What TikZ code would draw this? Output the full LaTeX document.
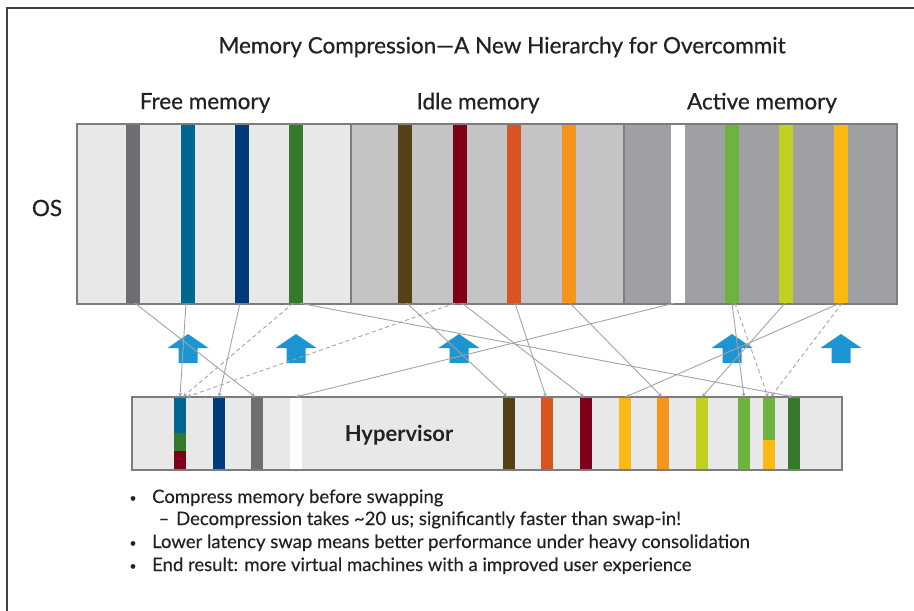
\documentclass[tikz,border=0pt]{standalone}
\usepackage{fontspec}
\setmainfont{Lato}
\newfontfamily\medfont{Lato}[FakeBold=0.6]
\newfontfamily\bodyfont{Lato}[FakeBold=0.3]
\usetikzlibrary{arrows.meta}
\definecolor{freebg}{HTML}{E8E8E8}
\definecolor{idlebg}{HTML}{C4C4C6}
\definecolor{activebg}{HTML}{A09FA4}
\definecolor{cgray}{HTML}{6D6E71}
\definecolor{cblue}{HTML}{006890}
\definecolor{cnavy}{HTML}{003B7B}
\definecolor{cgreen}{HTML}{35792B}
\definecolor{cbrown}{HTML}{544118}
\definecolor{cmaroon}{HTML}{800018}
\definecolor{cored}{HTML}{D9541E}
\definecolor{corange}{HTML}{F7941D}
\definecolor{clgreen}{HTML}{6DB33F}
\definecolor{cygreen}{HTML}{C2D021}
\definecolor{cgold}{HTML}{FDB813}
\definecolor{abl}{HTML}{1E95D3}
\definecolor{lgray}{HTML}{A3A3A3}
\definecolor{bgray}{HTML}{7D7D7F}
\definecolor{txt}{HTML}{222222}
\begin{document}
\begin{tikzpicture}[x=1pt,y=-1pt,
  osstripe/.style={rectangle,inner sep=0pt,minimum width=14pt,minimum height=178pt},
  hvstripe/.style={rectangle,inner sep=0pt,minimum width=12pt,minimum height=73pt},
  conn/.style={draw=lgray,line width=0.9pt,-{Stealth[length=4pt,width=4pt]}},
  dconn/.style={conn,dash pattern=on 4pt off 3pt},
  boxline/.style={draw=bgray,line width=2pt},
  hdr/.style={font=\medfont\fontsize{22.5}{26}\selectfont,text=txt},
  bul/.style={font=\bodyfont\fontsize{18.5}{22}\selectfont,text=txt,anchor=base west,inner sep=0pt},
  dot/.style={font=\bodyfont\fontsize{12}{14}\selectfont,text=txt,anchor=base,inner sep=0pt},
  uparr/.pic={\fill[abl] (-9.5,0) -- (-9.5,-15) -- (-20.5,-15) -- (0,-29) -- (20.5,-15) -- (9.5,-15) -- (9.5,0) -- cycle;}
]
\useasboundingbox (0,0) rectangle (914,611);
% frame
\draw[draw=black!75,line width=1.5pt] (7,611) -- (7,8) -- (914,8);
% title & headers
\node[hdr] (title) at (502,47) {Memory Compression—A New Hierarchy for Overcommit};
\node[hdr] (hfree) at (205,103) {Free memory};
\node[hdr] (hidle) at (478,103) {Idle memory};
\node[hdr] (hact) at (762,103) {Active memory};
\node[hdr] (os) at (47,208) {OS};
% OS sections
\fill[freebg] (77,124) rectangle (351,304);
\fill[idlebg] (351,124) rectangle (624,304);
\fill[activebg] (624,124) rectangle (897,304);
\node[osstripe,fill=cgray] (o1) at (133,214) {};
\node[osstripe,fill=cblue] (o2) at (188,214) {};
\node[osstripe,fill=cnavy] (o3) at (242,214) {};
\node[osstripe,fill=cgreen] (o4) at (296,214) {};
\node[osstripe,fill=cbrown] (o5) at (405,214) {};
\node[osstripe,fill=cmaroon] (o6) at (460,214) {};
\node[osstripe,fill=cored] (o7) at (514,214) {};
\node[osstripe,fill=corange] (o8) at (569,214) {};
\node[osstripe,fill=white] (o9) at (678,214) {};
\node[osstripe,fill=clgreen] (o10) at (732,214) {};
\node[osstripe,fill=cygreen] (o11) at (786,214) {};
\node[osstripe,fill=cgold] (o12) at (841,214) {};
\draw[boxline] (77,124) rectangle (897,304);
\draw[boxline] (351,124) -- (351,304);
\draw[boxline] (624,124) -- (624,304);
% Hypervisor
\fill[freebg] (132,397) rectangle (842,470);
\node[hvstripe] (hm) at (180,433.5) {};
\fill[cblue] (hm.north west) rectangle ([yshift=-36]hm.north east);
\fill[cgreen] ([yshift=-36]hm.north west) rectangle ([yshift=-54]hm.north east);
\fill[cmaroon] ([yshift=-54]hm.north west) rectangle (hm.south east);
\node[hvstripe,fill=cnavy] (h2) at (219,433.5) {};
\node[hvstripe,fill=cgray] (h3) at (257,433.5) {};
\node[hvstripe,fill=white] (h4) at (296,433.5) {};
\node[hvstripe,fill=cbrown] (h5) at (509,433.5) {};
\node[hvstripe,fill=cored] (h6) at (547,433.5) {};
\node[hvstripe,fill=cmaroon] (h7) at (586,433.5) {};
\node[hvstripe,fill=cgold] (h8) at (625,433.5) {};
\node[hvstripe,fill=corange] (h9) at (663,433.5) {};
\node[hvstripe,fill=cygreen] (h10) at (702,433.5) {};
\node[hvstripe,fill=clgreen] (h11) at (744,433.5) {};
\node[hvstripe] (hs) at (769,433.5) {};
\fill[clgreen] (hs.north west) rectangle ([yshift=-43]hs.north east);
\fill[cgold] ([yshift=-43]hs.north west) rectangle (hs.south east);
\node[hvstripe,fill=cgreen] (h13) at (794,433.5) {};
\draw[boxline] (132,397) rectangle (842,470);
\node[font=\fontsize{22}{26}\selectfont\bfseries,text=txt] (hv) at (399,435) {Hypervisor};
% blue arrows
\pic at (188,363) {uparr};
\pic at (296,363) {uparr};
\pic at (459,363) {uparr};
\pic at (732,363) {uparr};
\pic at (841,363) {uparr};
% connectors
\draw[conn] ([xshift=2]o1.south) -- ([xshift=-2]h3.north);
\draw[conn] ([xshift=-2]o2.south) -- (hm.north);
\draw[conn] ([xshift=-2]o3.south) -- (h2.north);
\draw[dconn] ([xshift=-3]o4.south) -- ([xshift=3]hm.north);
\draw[conn] ([xshift=4]o4.south) -- ([xshift=-1]h13.north);
\draw[conn] ([xshift=2]o5.south) -- ([xshift=-2]h5.north);
\draw[dconn] ([xshift=-5]o6.south) -- ([xshift=7]hm.north);
\draw[conn] ([xshift=2]o6.south) -- ([xshift=-2]h7.north);
\draw[conn] ([xshift=1]o7.south) -- ([xshift=-1]h6.north);
\draw[conn] ([xshift=1]o8.south) -- ([xshift=-1]h9.north);
\draw[conn] ([xshift=-4]o9.south) -- (h4.north);
\draw[conn] (o10.south) -- (h11.north);
\draw[dconn] ([xshift=3]o10.south) -- ([xshift=-1]hs.north);
\draw[conn] ([xshift=-1]o11.south) -- (h10.north);
\draw[conn] ([xshift=-1]o12.south) -- ([xshift=1]h8.north);
\draw[dconn] ([xshift=1]o12.south) -- ([xshift=2]hs.north);
% bullets
\node[bul] (b1) at (152,503) {Compress memory before swapping};
\node[bul] (b2) at (176,525) {Decompression takes \textasciitilde20 us; significantly faster than swap-in!};
\node[bul] (b3) at (152,548) {Lower latency swap means better performance under heavy consolidation};
\node[bul] (b4) at (152,571) {End result: more virtual machines with a improved user experience};
\node[dot] at (133,502) {•};
\node[bul,anchor=base] at (164,525) {–};
\node[dot] at (133,547) {•};
\node[dot] at (133,570) {•};
\end{tikzpicture}
\end{document}
